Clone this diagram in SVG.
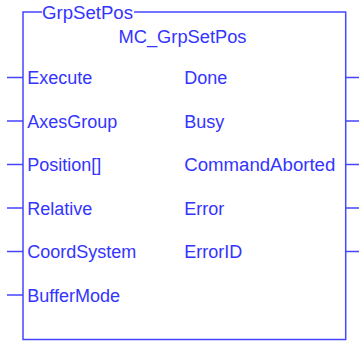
<svg xmlns="http://www.w3.org/2000/svg" width="359" height="341" viewBox="0 0 359 341">
<style>
.ln{stroke:#4646ff;stroke-width:1.5;fill:none}
.t{font-family:"Liberation Sans",Arial,sans-serif;font-size:18px;fill:#3434ff}
</style>
<rect width="359" height="341" fill="#ffffff"/>
<g id="block">
<path class="ln" d="M42,12 H23 V339.5 H345.7 V12 H134"/>
<text class="t" x="42" y="19" textLength="91" lengthAdjust="spacingAndGlyphs">GrpSetPos</text>
<text class="t" x="118.5" y="42.7" textLength="128" lengthAdjust="spacingAndGlyphs">MC_GrpSetPos</text>
</g>
<g id="connectors">
<path class="ln" d="M7,77.5H23 M7,121H23 M7,164.5H23 M7,208H23 M7,251.5H23 M7,295H23"/>
<path class="ln" d="M345.7,77.5H359 M345.7,121H359 M345.7,164.5H359 M345.7,208H359 M345.7,251.5H359"/>
</g>
<g id="inputs">
<text class="t" x="27.3" y="84">Execute</text>
<text class="t" x="27.3" y="127.5">AxesGroup</text>
<text class="t" x="27.3" y="171">Position[]</text>
<text class="t" x="27.3" y="214.5">Relative</text>
<text class="t" x="27.3" y="258">CoordSystem</text>
<text class="t" x="27.3" y="301.5">BufferMode</text>
</g>
<g id="outputs">
<text class="t" x="184.3" y="84">Done</text>
<text class="t" x="184.3" y="127.5">Busy</text>
<text class="t" x="184.3" y="171" textLength="151" lengthAdjust="spacingAndGlyphs">CommandAborted</text>
<text class="t" x="184.3" y="214.5">Error</text>
<text class="t" x="184.3" y="258">ErrorID</text>
</g>
</svg>
